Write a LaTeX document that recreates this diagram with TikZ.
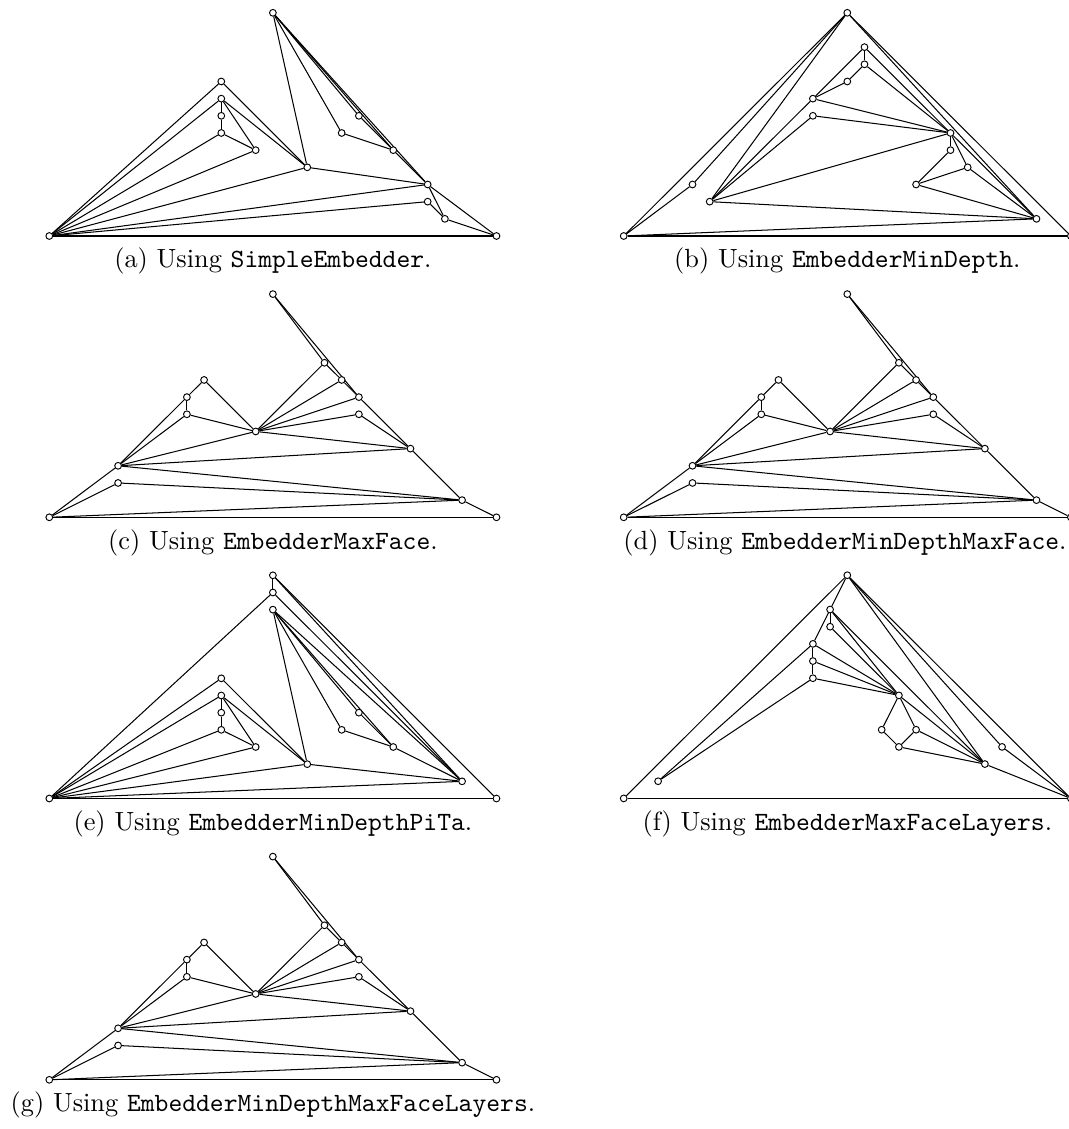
\documentclass[tikz,border=0pt]{standalone}
\usepackage{fontspec}
\pgfdeclarelayer{edges}
\pgfsetlayers{edges,main}
\tikzset{
  vtx/.style={circle,draw,fill=white,inner sep=0pt,minimum size=2.5pt,line width=0.35pt},
  link/.style={line width=0.38pt},
  captext/.style={anchor=base,inner sep=0pt,font=\fontsize{9.75pt}{12pt}\selectfont},
  panel/.style={x=6.370pt,y=6.359pt},
}
% place the vertices of one drawing: prefix, list name/x/y
\newcommand\vertices[2]{%
  \foreach \n/\vx/\vy in {#2} \node[vtx] (#1\n) at (\vx,\vy) {};}
% draw the edges of one drawing below its vertices: prefix, list a/b
\newcommand\links[2]{%
  \begin{pgfonlayer}{edges}
  \foreach \p/\q in {#2} \draw[link] (#1\p) -- (#1\q);
  \end{pgfonlayer}}
% the drawing shared by MaxFace, MinDepthMaxFace and MinDepthMaxFaceLayers
\newcommand\maxfacegraph[1]{%
  \vertices{#1}{T/13/13, Q/16/9, R/17/8, S/18/7, U/18/6, V/12/5, W/21/4,
    X/9/8, Xa/8/7, Z/8/6, Y/4/3, M/4/2, K/24/1, BL/0/0, BR/26/0}
  \links{#1}{T/Q, T/S, Q/R, R/S, Q/V, R/V, S/V, U/V, U/W, S/W, V/W, X/V,
    X/Xa, Xa/Z, Z/V, Xa/Y, Z/Y, Y/V, Y/W, Y/K, Y/BL, M/BL, M/K, BL/K,
    BL/BR, W/K, K/BR}}
\begin{document}
\begin{tikzpicture}[x=0.37037pt,y=-0.37037pt]
\clip (0,0) rectangle (1069,1129);

% (a) SimpleEmbedder
\begin{scope}[shift={(49.3,236)},panel]
  \vertices{a-}{BL/0/0, T/13/13, A1/10/9, A2/10/8, A3/10/7, A4/10/6, A5/12/5,
    B/18/7, C/17/6, D/20/5, E/15/4, F/22/3, G/22/2, H/23/1, BR/26/0}
  \links{a-}{BL/A1, BL/A2, BL/A4, BL/A5, BL/E, BL/F, BL/G, BL/BR, A1/E, A2/E,
    A2/A3, A3/A4, A2/A5, A4/A5, T/E, T/C, T/B, T/D, T/F, C/D, B/D, D/F,
    E/F, F/H, F/BR, G/H, H/BR}
\end{scope}

% (b) EmbedderMinDepth
\begin{scope}[shift={(623.7,236)},panel]
  \vertices{b-}{BL/0/0, T/13/13, P1/14/11, P2/14/10, P3/13/9, S/11/8, U/11/7,
    V/19/6, X/19/5, Z/20/4, Xa/17/3, Y/24/1, W/5/2, M/4/3, BR/26/0}
  \links{b-}{T/BL, T/M, T/W, T/Y, T/BR, BL/M, BL/Y, BL/BR, W/S, W/U, W/V, W/Y,
    S/P3, S/P1, S/V, U/V, P3/P2, P2/P1, P2/V, P1/V, V/X, V/Z, V/Y, X/Xa,
    Z/Xa, Z/Y, Xa/Y}
\end{scope}

% (c) EmbedderMaxFace
\begin{scope}[shift={(49.3,517.3)},panel]
  \maxfacegraph{c-}
\end{scope}

% (d) EmbedderMinDepthMaxFace
\begin{scope}[shift={(623.7,517.3)},panel]
  \maxfacegraph{d-}
\end{scope}

% (e) EmbedderMinDepthPiTa
\begin{scope}[shift={(49.3,798.5)},panel]
  \vertices{e-}{BL/0/0, X1/13/13, Z1/13/12, T/13/11, A1/10/7, A2/10/6, A3/10/5,
    A4/10/4, A5/12/3, B/18/5, C/17/4, D/20/3, E/15/2, Y/24/1, BR/26/0}
  \links{e-}{BL/Z1, BL/A1, BL/A2, BL/A4, BL/A5, BL/E, BL/Y, BL/BR, A1/E, A2/E,
    A2/A3, A3/A4, A2/A5, A4/A5, T/E, T/C, T/B, T/D, T/Y, C/D, B/D, D/Y,
    E/Y, X1/Z1, X1/Y, X1/BR, Z1/Y}
\end{scope}

% (f) EmbedderMaxFaceLayers
\begin{scope}[shift={(623.7,798.4)},panel]
  \vertices{f-}{T/13/13, W/12/11, U/12/10, S/11/9, R/11/8, Q/11/7, P/2/1,
    V/16/6, X/15/4, Z/17/4, Xa/16/3, Y/21/2, N/22/3, BL/0/0, BR/26/0}
  \links{f-}{T/BL, T/W, T/Y, T/N, T/BR, BL/BR, N/BR, Y/BR, W/U, W/S, W/V, W/Y,
    U/V, S/R, R/Q, S/V, R/V, Q/V, P/S, P/Q, V/X, V/Z, V/Y, X/Xa, Z/Xa,
    Xa/Y, Z/Y}
\end{scope}

% (g) EmbedderMinDepthMaxFaceLayers
\begin{scope}[shift={(49.3,1079.8)},panel]
  \maxfacegraph{g-}
\end{scope}

% sub-captions
\node[captext] (capa) at (272.9,268) {(a) Using \texttt{SimpleEmbedder}.};
\node[captext] (capb) at (847.3,268) {(b) Using \texttt{EmbedderMinDepth}.};
\node[captext] (capc) at (272.9,549) {(c) Using \texttt{EmbedderMaxFace}.};
\node[captext] (capd) at (845,549) {(d) Using \texttt{EmbedderMinDepthMaxFace}.};
\node[captext] (cape) at (272.9,830) {(e) Using \texttt{EmbedderMinDepthPiTa}.};
\node[captext] (capf) at (847.3,830) {(f) Using \texttt{EmbedderMaxFaceLayers}.};
\node[captext] (capg) at (272.9,1111) {(g) Using \texttt{EmbedderMinDepthMaxFaceLayers}.};
\end{tikzpicture}
\end{document}
